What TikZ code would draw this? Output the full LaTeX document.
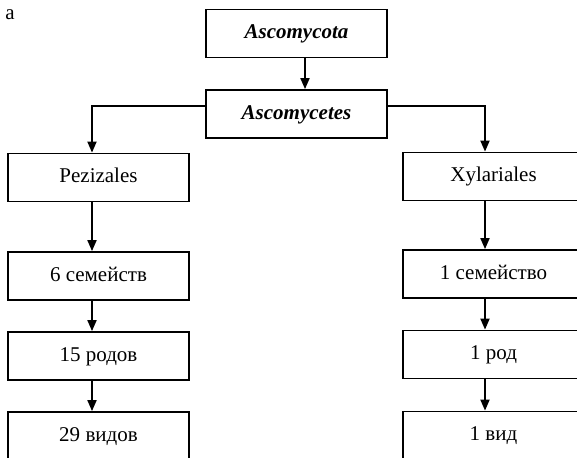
\documentclass[tikz,border=0pt]{standalone}
\usepackage{fontspec}
\setmainfont{Liberation Serif}
\usetikzlibrary{arrows.meta}

\begin{document}
\begin{tikzpicture}
    [x=0.5pt, y=-0.5pt, font=\fontsize{10.5}{12}\selectfont,
    taxon/.style={draw=black, line width=0.9pt, minimum width=90.5pt,
    minimum height=24pt, inner sep=0pt, text height=7.5pt, text depth=2.2pt},
    latin/.style={taxon, font=\fontsize{10.5}{12}\selectfont\bfseries\itshape},
    link/.style={draw=black, line width=0.9pt, -{Triangle[length=5.5pt,width=4.5pt]}}]
    \clip (0,0) rectangle (577,457);
    \node (label) at (10,15) {a};
    % top of the tree
    \node [latin] (phylum) at (296.5,33.5) {Ascomycota};
    \node [latin] (class) at (296.5,114) {Ascomycetes};
    % two orders with their counts
    \node [taxon] (pezizales) at (98.5,177.5) {Pezizales};
    \node [taxon] (fam1) at (98.5,276) {6 семейств};
    \node [taxon] (gen1) at (98.5,356) {15 родов};
    \node [taxon] (sp1) at (98.5,436) {29 видов};
    \node [taxon] (xylariales) at (493.5,176.5) {Xylariales};
    \node [taxon] (fam2) at (493.5,274) {1 семейство};
    \node [taxon] (gen2) at (493.5,354.5) {1 род};
    \node [taxon] (sp2) at (493.5,435.5) {1 вид};
    % connectors
    \draw [link] ([xshift=4.25pt]phylum.south) -- ([xshift=4.25pt]class.north);
    \draw [link] ([yshift=4pt]class.west) -| ([xshift=-3.25pt]pezizales.north);
    \draw [link] ([yshift=4pt]class.east) -| ([xshift=-4.25pt]xylariales.north);
    \draw [link] ([xshift=-3.25pt]pezizales.south) -- ([xshift=-3.25pt]fam1.north);
    \draw [link] ([xshift=-3.25pt]fam1.south) -- ([xshift=-3.25pt]gen1.north);
    \draw [link] ([xshift=-3.25pt]gen1.south) -- ([xshift=-3.25pt]sp1.north);
    \draw [link] ([xshift=-4.25pt]xylariales.south) -- ([xshift=-4.25pt]fam2.north);
    \draw [link] ([xshift=-4.25pt]fam2.south) -- ([xshift=-4.25pt]gen2.north);
    \draw [link] ([xshift=-4.25pt]gen2.south) -- ([xshift=-4.25pt]sp2.north);
\end{tikzpicture}
\end{document}
